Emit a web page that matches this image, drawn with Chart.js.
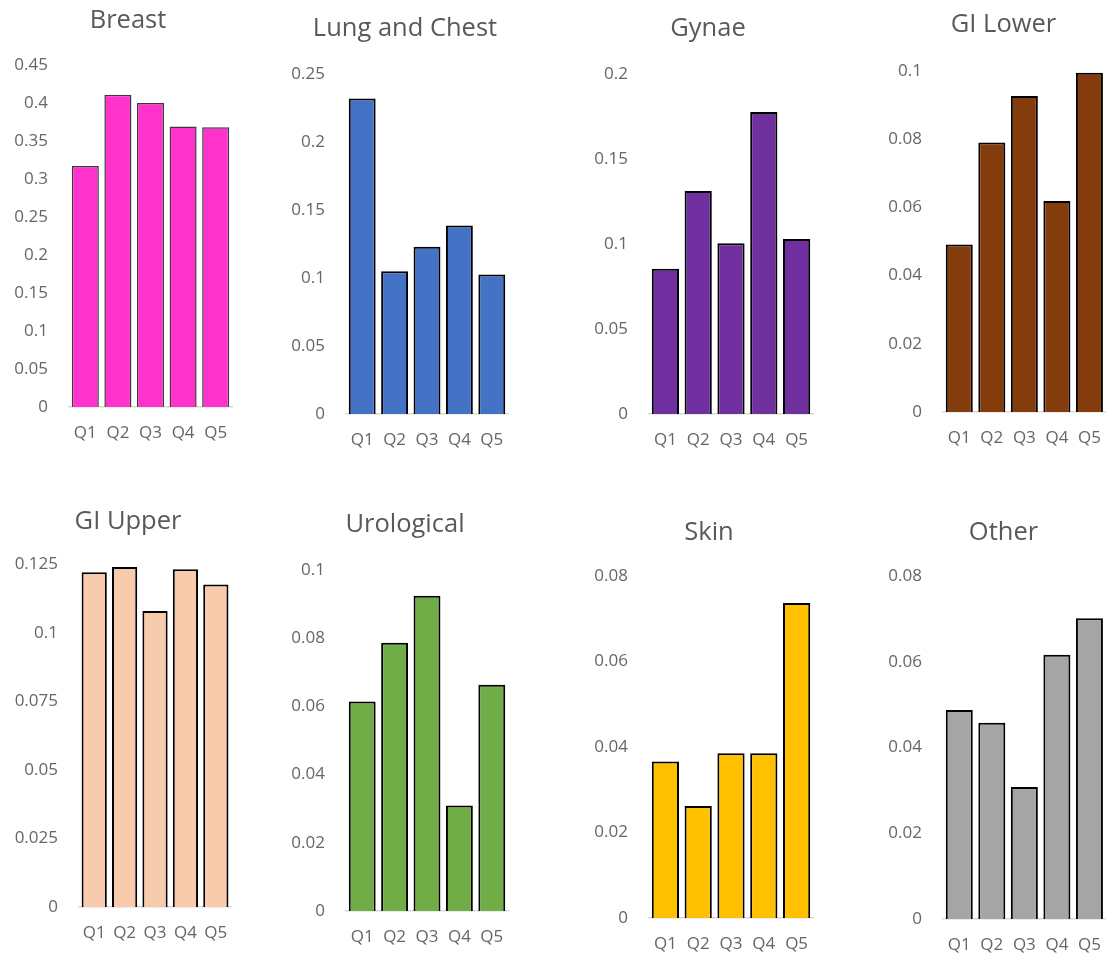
<!DOCTYPE html>
<html><head><meta charset="utf-8">
<script src="https://cdn.jsdelivr.net/npm/chart.js@4.4.1/dist/chart.umd.min.js"></script>
<style>
html,body{margin:0;padding:0;background:#fff;width:1110px;height:959px;overflow:hidden;position:relative;}
canvas{position:absolute;}
</style></head><body>
<script>
// ---- data ----
const categories = ['Q1','Q2','Q3','Q4','Q5'];
const titles = ['Breast','Lung and Chest','Gynae','GI Lower','GI Upper','Urological','Skin','Other'];
const breast     = [0.317, 0.411, 0.400, 0.369, 0.368];
const lungChest  = [0.232, 0.105, 0.123, 0.1386, 0.1026];
const gynae      = [0.0854, 0.1312, 0.1005, 0.1777, 0.103];
const giLower    = [0.0491, 0.0790, 0.0927, 0.0619, 0.0995];
const giUpper    = [0.1221, 0.1240, 0.1080, 0.1232, 0.1176];
const urological = [0.0614, 0.0786, 0.0924, 0.0309, 0.0663];
const skin       = [0.0366, 0.0262, 0.0385, 0.0385, 0.0736];
const other      = [0.0488, 0.0458, 0.0308, 0.0617, 0.0702];
const yMax  = [0.45, 0.25, 0.2, 0.1, 0.125, 0.1, 0.08, 0.08];
const yStep = [0.05, 0.05, 0.05, 0.02, 0.025, 0.02, 0.02, 0.02];

// ---- styles / layout ----
const seriesList = [breast, lungChest, gynae, giLower, giUpper, urological, skin, other];
const colors = ['#FF33CC','#4472C4','#7030A0','#843C0C','#F8CBAD','#70AD47','#FFC000','#A5A5A5'];
const borderColors = ['#3a3a3a','#000','#000','#000','#000','#000','#000','#000'];
const borderWidths = [1.5,2,2,2,2,2,2,2];
// pl/pr: plot left/right, yt: top tick pixel, y0: zero pixel, tx/ty: title centre
const panels = [
  {pl:69,  pr:232,  yt:65,  y0:406.7, tx:128,  ty:21},
  {pl:346, pr:508,  yt:74,  y0:414.3, tx:405,  ty:29},
  {pl:649, pr:813,  yt:74,  y0:414.3, tx:708,  ty:29},
  {pl:942.7,pr:1105,yt:71,  y0:411.7, tx:1003, ty:25},
  {pl:79,  pr:232,  yt:564, y0:906.7, tx:128,  ty:521.7},
  {pl:346, pr:508,  yt:570, y0:911.7, tx:405,  ty:525.3},
  {pl:649, pr:813,  yt:576, y0:918.3, tx:709,  ty:533.3},
  {pl:942.7,pr:1105,yt:576, y0:918.3, tx:1003, ty:532.7}
];
const X_LABEL_OFFSET = 26.6;
const FONT = "'Open Sans', 'Liberation Sans', sans-serif";
const TITLE_SIZE = 25.5, TITLE_LH = 1.2;
const TICK_SIZE = 17, TICK_LH = 1.2;

panels.forEach((p, i) => {
  const yw = 68;
  const axisLeft = p.pl - yw;
  const titleRight = 2 * p.tx - axisLeft;
  const extraR = titleRight - p.pr;
  const cLeft = axisLeft;
  const W = titleRight - cLeft;
  const tlh = TITLE_SIZE * TITLE_LH;
  const cTop = p.ty - 25;
  const pt = 25 - tlh / 2;
  const pb = p.yt - p.ty - tlh / 2;
  const xh = 50;
  const H = p.y0 - cTop + xh;
  const xpad = X_LABEL_OFFSET - TICK_SIZE * TICK_LH / 2;

  const cv = document.createElement('canvas');
  cv.width = Math.round(W); cv.height = Math.round(H);
  cv.style.left = cLeft + 'px'; cv.style.top = cTop + 'px';
  cv.style.width = Math.round(W) + 'px'; cv.style.height = Math.round(H) + 'px';
  document.body.appendChild(cv);

  new Chart(cv.getContext('2d'), {
    type: 'bar',
    data: {
      labels: categories,
      datasets: [{
        data: seriesList[i],
        backgroundColor: colors[i],
        borderColor: borderColors[i],
        borderWidth: borderWidths[i],
        borderSkipped: 'start',
        categoryPercentage: 1,
        barPercentage: 0.83,
        yAxisID: 'y'
      }]
    },
    options: {
      responsive: false,
      animation: false,
      devicePixelRatio: 1,
      layout: { padding: 0 },
      plugins: {
        legend: { display: false },
        tooltip: { enabled: false },
        title: {
          display: true,
          text: titles[i],
          color: '#595959',
          font: { family: FONT, size: TITLE_SIZE, weight: 'normal', lineHeight: TITLE_LH },
          padding: { top: pt, bottom: pb }
        }
      },
      scales: {
        x: {
          grid: { display: false, drawTicks: false },
          border: { display: true, color: '#d9d9d9', width: 1.5 },
          ticks: { color: '#666', padding: xpad, font: { family: FONT, size: TICK_SIZE, lineHeight: TICK_LH } },
          afterFit: s => { s.height = xh; }
        },
        y: {
          min: 0, max: yMax[i],
          grid: { display: false, drawTicks: false },
          border: { display: false },
          ticks: {
            stepSize: yStep[i],
            color: '#666',
            padding: 21,
            font: { family: FONT, size: TICK_SIZE, lineHeight: TICK_LH },
            callback: v => String(+(+v).toFixed(4))
          },
          afterFit: s => { s.width = yw; }
        },
        yPad: {
          type: 'linear',
          position: 'right',
          display: true,
          grid: { display: false, drawTicks: false },
          border: { display: false },
          ticks: { display: false },
          afterFit: s => { s.width = extraR; }
        }
      }
    }
  });
});
</script>
</body></html>
